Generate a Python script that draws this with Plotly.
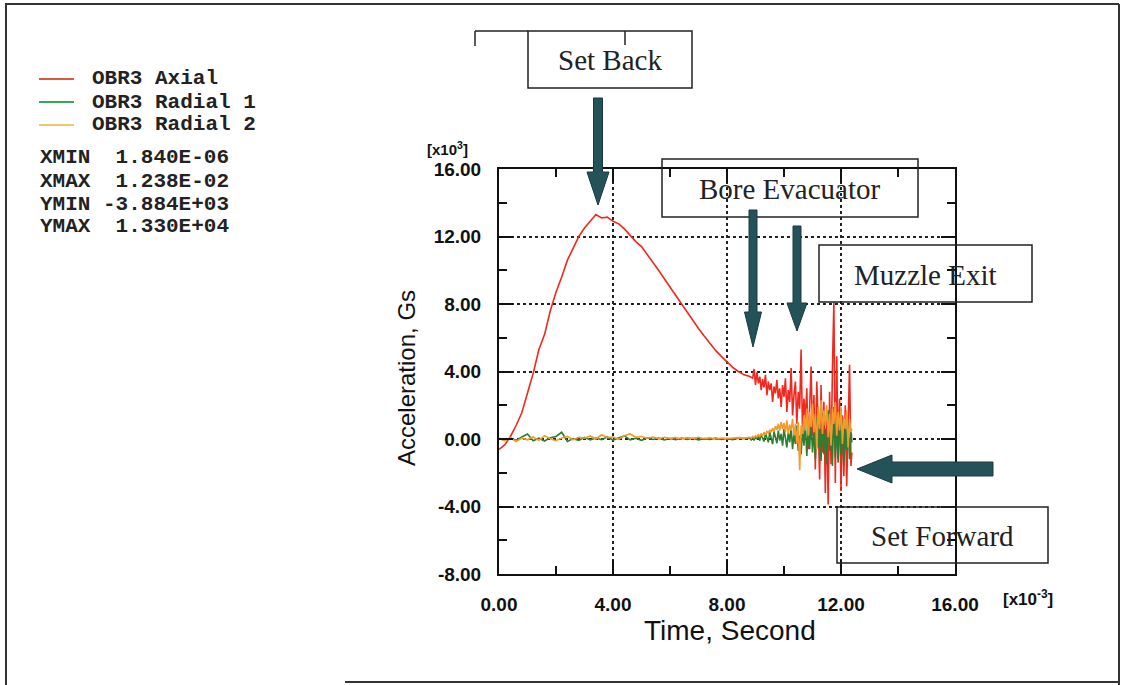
import plotly.graph_objects as go

# ---------------- data (time in 1e-3 s, acceleration in 1e3 G) ----------------
time_ms = [0.00, 0.20, 0.40, 0.60, 0.80, 1.00, 1.20, 1.40, 1.60, 1.80,
           2.00, 2.20, 2.40, 2.60, 2.80, 3.00, 3.20, 3.40, 3.60, 3.80,
           4.00, 4.20, 4.40, 4.60, 4.80, 5.00, 5.20, 5.40, 5.60, 5.80,
           6.00, 6.20, 6.40, 6.60, 6.80, 7.00, 7.20, 7.40, 7.60, 7.80,
           8.00, 8.20, 8.40, 8.60,
           8.80, 8.85, 8.90, 8.95, 9.00, 9.05, 9.10, 9.15, 9.20, 9.25,
           9.30, 9.35, 9.40, 9.45, 9.50, 9.55, 9.60, 9.65, 9.70, 9.75,
           9.80, 9.85, 9.90, 9.95, 10.00, 10.05, 10.10, 10.15, 10.20, 10.25,
           10.30, 10.35, 10.40, 10.45, 10.50, 10.55, 10.60, 10.65, 10.70, 10.75,
           10.80, 10.85, 10.90, 10.95, 11.00, 11.05, 11.10, 11.15, 11.20, 11.25,
           11.30, 11.35, 11.40, 11.45, 11.50, 11.55, 11.60, 11.65, 11.70, 11.75,
           11.80, 11.85, 11.90, 11.95, 12.00, 12.05, 12.10, 12.15, 12.20, 12.25,
           12.30, 12.35, 12.38]

axial_kG = [-0.62, -0.35, 0.15, 0.80, 1.55, 2.70, 3.90, 5.30, 6.20, 7.60,
            8.70, 9.60, 10.60, 11.30, 12.00, 12.50, 12.90, 13.30, 13.10, 13.15,
            12.90, 12.75, 12.45, 12.05, 11.70, 11.40, 10.95, 10.50, 10.00, 9.50,
            9.00, 8.50, 8.00, 7.50, 7.00, 6.55, 6.10, 5.65, 5.25, 4.90,
            4.55, 4.25, 4.00, 3.80,
            3.70, 3.65, 3.60, 4.15, 3.20, 3.95, 3.30, 3.70, 2.90, 3.55,
            3.05, 3.80, 2.60, 3.40, 2.90, 3.30, 2.20, 3.10, 2.70, 3.50,
            2.40, 3.00, 1.90, 3.20, 2.50, 3.60, 1.60, 2.90, 2.20, 4.20,
            1.40, 2.60, 3.40, 0.90, 2.80, 1.80, 5.30, 0.40, 2.40, 1.20,
            3.00, -0.60, 2.00, 4.30, 0.20, 2.60, -1.80, 3.40, 1.00, -2.40,
            3.20, -0.80, 2.20, -3.20, 1.60, -3.88, 2.80, -1.50, 4.20, 8.10,
            -2.60, 4.90, -1.20, 2.40, -3.10, 1.40, -2.20, 2.00, -2.80, 0.60,
            4.40, -1.60, -0.80]

radial1_kG = [0.00, -0.05, 0.05, -0.08, 0.12, 0.30, -0.10, 0.05, -0.12, 0.08,
              0.15, 0.40, -0.15, 0.02, -0.08, 0.10, -0.05, 0.06, -0.04, 0.12,
              -0.06, 0.08, 0.18, -0.05, 0.04, -0.08, 0.06, -0.03, 0.05, -0.06,
              0.03, -0.04, 0.06, -0.02, 0.04, -0.05, 0.02, -0.03, 0.05, -0.02,
              0.03, -0.04, 0.05, 0.02,
              0.05, -0.05, 0.10, -0.08, 0.12, 0.00, 0.25, -0.10, 0.30, 0.05,
              -0.15, 0.35, 0.10, -0.20, 0.40, 0.05, -0.30, 0.45, 0.10, -0.25,
              0.50, -0.10, 0.30, -0.40, 0.60, 0.10, -0.50, 0.40, -0.20, 0.70,
              -0.60, 0.30, -0.30, 0.80, -0.70, 0.20, -0.90, 0.60, -0.40, 0.90,
              -1.00, 0.50, -0.60, 1.10, -0.80, 0.40, -1.20, 1.30, -0.50, 0.90,
              -1.30, 1.50, -0.90, 0.60, -1.50, 1.70, -0.70, 1.20, -1.60, 1.90,
              -1.10, 0.80, -1.40, 1.50, -0.90, 1.10, -1.60, 1.30, -0.60, 0.90,
              -1.20, 0.60, -0.20]

radial2_kG = [0.05, -0.10, 0.08, -0.15, 0.05, -0.05, 0.12, -0.08, 0.20, 0.02,
              -0.10, 0.06, 0.15, -0.05, 0.10, 0.05, 0.18, 0.00, 0.25, 0.08,
              0.12, -0.02, 0.20, 0.30, 0.10, 0.15, 0.05, 0.12, 0.02, 0.10,
              0.04, 0.09, 0.00, 0.08, 0.03, 0.10, 0.02, 0.07, 0.00, 0.06,
              0.02, 0.05, 0.08, 0.05,
              0.10, 0.05, 0.15, 0.08, 0.20, 0.12, 0.25, 0.15, 0.30, 0.20,
              0.40, 0.25, 0.45, 0.35, 0.55, 0.40, 0.65, 0.45, 0.75, 0.55,
              0.90, 0.50, 1.00, 0.60, 0.95, 0.40, 1.10, 0.30, 0.85, 0.50,
              1.20, 0.20, 0.90, -0.30, 1.00, -1.85, 0.80, 0.30, 1.40, 0.50,
              1.80, 0.20, 1.60, 0.70, 2.10, 0.40, 1.50, -0.60, 1.90, 0.60,
              2.30, 0.30, 1.70, 0.80, 2.00, 0.10, 1.50, -0.40, 1.80, 0.90,
              2.20, 0.20, 1.60, 0.50, 1.90, -0.30, 1.30, 0.60, 1.70, -0.50,
              1.20, 0.40, 0.60]

series_names = ["OBR3 Axial", "OBR3 Radial 1", "OBR3 Radial 2"]
series_colors = ["#f0281e", "#2f7d2f", "#f39a2a"]
legend_colors = ["#dc5a3c", "#30aa55", "#f2c474"]

x_tickvals = [0, 4, 8, 12, 16]
x_ticktext = ["<b>0.00</b>", "<b>4.00</b>", "<b>8.00</b>", "<b>12.00</b>", "<b>16.00</b>"]
y_tickvals = [-8, -4, 0, 4, 8, 12, 16]
y_ticktext = ["<b>-8.00</b>", "<b>-4.00</b>", "<b>0.00</b>", "<b>4.00</b>", "<b>8.00</b>",
              "<b>12.00</b>", "<b>16.00</b>"]

stats_lines = ["XMIN  1.840E-06", "XMAX  1.238E-02",
               "YMIN -3.884E+03", "YMAX  1.330E+04"]

# ---------------- geometry helpers (pixel -> paper) ----------------
W, H = 1124, 685
L, R, T, B = 499, 955, 169, 574   # plot area in pixels


def px(x):
    return (x - L) / (R - L)


def py(y):
    return (B - y) / (B - T)


fig = go.Figure()
for vals, name, col in zip([axial_kG, radial1_kG, radial2_kG], series_names, series_colors):
    fig.add_trace(go.Scatter(x=time_ms, y=vals, mode="lines", name=name,
                             line=dict(color=col, width=1.6), showlegend=False))

tickfont = dict(family="Liberation Sans, Arial, sans-serif", size=19, color="#111")
fig.update_xaxes(range=[0, 16], tickmode="array", tickvals=x_tickvals, ticktext=x_ticktext,
                 ticks="inside", ticklen=14, tickwidth=1.5, tickcolor="#111",
                 showline=True, linecolor="#111", linewidth=2, mirror="ticks",
                 showgrid=True, gridcolor="#222", gridwidth=1.5, griddash="dot",
                 zeroline=False, tickfont=tickfont, ticklabelstandoff=12,
                 minor=dict(tickmode="array", tickvals=[2, 6, 10, 14], ticks="inside",
                            ticklen=8, tickwidth=1.5, tickcolor="#111", showgrid=False))
fig.update_yaxes(range=[-8, 16], tickmode="array", tickvals=y_tickvals, ticktext=y_ticktext,
                 ticks="inside", ticklen=14, tickwidth=1.5, tickcolor="#111",
                 showline=True, linecolor="#111", linewidth=2, mirror="ticks",
                 showgrid=True, gridcolor="#222", gridwidth=1.5, griddash="dot",
                 zeroline=False, tickfont=tickfont, ticklabelstandoff=12,
                 minor=dict(tickmode="array", tickvals=[-6, -2, 2, 6, 10, 14], ticks="inside",
                            ticklen=8, tickwidth=1.5, tickcolor="#111", showgrid=False))

shapes = []
annotations = []

# outer page frame
frame_col = "#333"
for (x0, y0, x1, y1) in [(5, 4, 1119, 4), (6, 4, 6, 685), (1119, 4, 1119, 685), (345, 682, 1119, 682)]:
    shapes.append(dict(type="line", xref="paper", yref="paper", x0=px(x0), y0=py(y0),
                       x1=px(x1), y1=py(y1), line=dict(color=frame_col, width=2)))

# legend
mono = "Liberation Mono, Courier New, monospace"
legend_y = [79, 102, 125]
for name, col, yy in zip(series_names, legend_colors, legend_y):
    shapes.append(dict(type="line", xref="paper", yref="paper", x0=px(39), x1=px(74),
                       y0=py(yy), y1=py(yy), line=dict(color=col, width=2)))
    annotations.append(dict(xref="paper", yref="paper", x=px(90), y=py(yy), text="<b>" + name + "</b>",
                            showarrow=False, xanchor="left", yanchor="middle",
                            font=dict(family=mono, size=21, color="#222")))
for i, line in enumerate(stats_lines):
    annotations.append(dict(xref="paper", yref="paper", x=px(38), y=py(158 + 23 * i),
                            text="<b>" + line.replace(" ", "&nbsp;") + "</b>",
                            showarrow=False, xanchor="left", yanchor="middle",
                            font=dict(family=mono, size=21, color="#222")))

# axis titles and multipliers
sans = "Liberation Sans, Arial, sans-serif"
annotations.append(dict(xref="paper", yref="paper", x=px(730), y=py(630), text="Time, Second",
                        showarrow=False, xanchor="center", yanchor="middle",
                        font=dict(family=sans, size=28, color="#111")))
annotations.append(dict(xref="paper", yref="paper", x=px(406), y=py(378), text="Acceleration, Gs",
                        showarrow=False, xanchor="center", yanchor="middle", textangle=-90,
                        font=dict(family=sans, size=24, color="#111")))
annotations.append(dict(xref="paper", yref="paper", x=px(447), y=py(148), text="<b>[x10<sup>3</sup>]</b>",
                        showarrow=False, xanchor="center", yanchor="middle",
                        font=dict(family=sans, size=15, color="#111")))
annotations.append(dict(xref="paper", yref="paper", x=px(1028), y=py(598), text="<b>[x10<sup>-3</sup>]</b>",
                        showarrow=False, xanchor="center", yanchor="middle",
                        font=dict(family=sans, size=17, color="#111")))

# callout boxes
serif = "Liberation Serif, Times New Roman, serif"
boxes = [("Set Back", 528, 31, 692, 88),
         ("Bore Evacuator", 662, 159, 918, 217),
         ("Muzzle Exit", 819, 245, 1032, 302),
         ("Set Forward", 837, 507, 1048, 563)]
for text, x0, y0, x1, y1 in boxes:
    shapes.append(dict(type="rect", xref="paper", yref="paper", x0=px(x0), y0=py(y0),
                       x1=px(x1), y1=py(y1), line=dict(color="#222", width=1.5),
                       fillcolor="rgba(0,0,0,0)"))
    annotations.append(dict(xref="paper", yref="paper", x=px((x0 + x1) / 2), y=py((y0 + y1) / 2 + 1),
                            text=text, showarrow=False, xanchor="center", yanchor="middle",
                            font=dict(family=serif, size=29, color="#222")))

# bracket remnants near "Set Back"
for (x0, y0, x1, y1) in [(475, 31, 528, 31), (475, 31, 475, 46), (625, 31, 625, 45)]:
    shapes.append(dict(type="line", xref="paper", yref="paper", x0=px(x0), y0=py(y0),
                       x1=px(x1), y1=py(y1), line=dict(color="#222", width=1.5)))

# block arrows
arrow_col = "#245259"


def down_arrow(xc, y0, yh, yt, w, hw):
    pts = [(xc - w, y0), (xc + w, y0), (xc + w, yh), (xc + hw, yh), (xc, yt),
           (xc - hw, yh), (xc - w, yh)]
    return "M " + " L ".join(f"{px(a):.5f},{py(b):.5f}" for a, b in pts) + " Z"


def left_arrow(yc, x0, xh, xt, w, hw):
    pts = [(x0, yc - w), (x0, yc + w), (xh, yc + w), (xh, yc + hw), (xt, yc),
           (xh, yc - hw), (xh, yc - w)]
    return "M " + " L ".join(f"{px(a):.5f},{py(b):.5f}" for a, b in pts) + " Z"


for path in [down_arrow(598, 98, 172, 205, 4.5, 11),
             down_arrow(753, 210, 312, 347, 4, 8.5),
             down_arrow(797, 226, 303, 331, 4, 10),
             left_arrow(469, 993, 892, 857, 7, 14)]:
    shapes.append(dict(type="path", xref="paper", yref="paper", path=path,
                       fillcolor=arrow_col, line=dict(color="#1a3a40", width=1)))

fig.update_layout(width=W, height=H,
                  margin=dict(l=L, r=W - R, t=T, b=H - B, pad=0),
                  paper_bgcolor="white", plot_bgcolor="white",
                  shapes=shapes, annotations=annotations)

# remove the page's default body margin so the figure fills the window exactly
fig.write_html("out.html", config={"displayModeBar": False},
               post_script="document.body.style.margin='0px';document.body.style.overflow='hidden';")
